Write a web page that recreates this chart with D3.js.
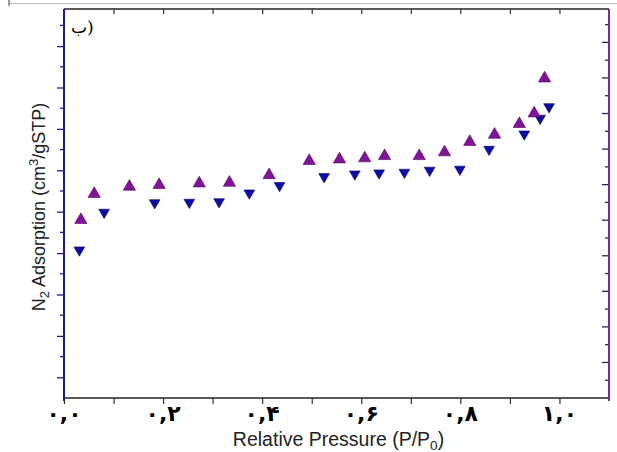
<!DOCTYPE html>
<html>
<head>
<meta charset="utf-8">
<script src="https://cdn.jsdelivr.net/npm/d3@7"></script>
<style>
  body { margin: 0; background: #fff; }
  svg { display: block; }
</style>
</head>
<body>
<script>
// adsorption branch (purple, up triangles)
const adsP = [0.034, 0.061, 0.132, 0.192, 0.273, 0.334, 0.414, 0.495, 0.556, 0.607, 0.647, 0.717, 0.768, 0.819, 0.869, 0.919, 0.949, 0.970];
const adsV = [86, 98.6, 102.1, 102.9, 103.7, 104.0, 107.7, 114.5, 115.3, 115.8, 116.9, 116.9, 118.7, 123.7, 127.2, 132.4, 137.5, 154.4];
// desorption branch (blue, down triangles)
const desP = [0.031, 0.081, 0.183, 0.253, 0.313, 0.374, 0.435, 0.525, 0.587, 0.636, 0.687, 0.738, 0.799, 0.858, 0.929, 0.961, 0.979];
const desV = [71.5, 89.7, 94.3, 94.5, 94.8, 99.0, 102.6, 106.9, 108.2, 108.7, 109.0, 110.0, 110.5, 120.1, 127.5, 135.1, 140.7];

const xTickVals = [0, 0.2, 0.4, 0.6, 0.8, 1.0];
const xTickLabels = ["۰,۰", "۰,۲", "۰,۴", "۰,۶", "۰,۸", "۱,۰"];
const xMinor = [0.1, 0.3, 0.5, 0.7, 0.9];

const W = 617, H = 452;
const mLeft = 64, mRight = 609, mTop = 9, mBottom = 398;

const svg = d3.select("body").append("svg").attr("width", W).attr("height", H);

//scales
const x = d3.scaleLinear().domain([0, 1.1]).range([mLeft, mRight]);
const y = d3.scaleLinear().domain([0, 188]).range([mBottom, mBottom - 188 * 2.07]);
const yR = d3.scaleLinear().domain([0, 1]).range([mBottom, mBottom - 35.56]);

// faint frame line at very top of the picture
svg.append("line").attr("x1", 9).attr("x2", W).attr("y1", 3.5).attr("y2", 3.5)
    .attr("stroke", "#bbb").attr("stroke-width", 1);
svg.append("line").attr("x1", 9).attr("x2", 9).attr("y1", 0).attr("y2", 6)
    .attr("stroke", "#444").attr("stroke-width", 1);

// bottom axis
const gB = svg.append("g").attr("transform", `translate(0,${mBottom})`);
gB.call(d3.axisBottom(x).tickValues(xTickVals.concat(xMinor)).tickSize(6).tickFormat(""));
gB.select(".domain").remove();
gB.selectAll(".tick line").attr("stroke", "#333").attr("stroke-width", 1.2);
gB.selectAll(".lbl").data(xTickVals).join("text")
    .attr("class", "lbl")
    .attr("x", (d) => x(d))
    .attr("y", 23)
    .attr("text-anchor", "middle")
    .attr("font-family", "DejaVu Sans, sans-serif")
    .attr("font-size", 22)
    .attr("font-weight", "bold")
    .attr("fill", "#000")
    .text((d, i) => xTickLabels[i]);
svg.append("line").attr("x1", mLeft).attr("x2", mRight).attr("y1", mBottom).attr("y2", mBottom)
    .attr("stroke", "#222").attr("stroke-width", 1.5);

// top axis, ticks inward
const gT = svg.append("g").attr("transform", `translate(0,${mTop})`);
gT.call(d3.axisTop(x).tickValues(xTickVals.concat(xMinor)).tickSize(-5).tickFormat(""));
gT.select(".domain").remove();
gT.selectAll(".tick line").attr("stroke", "#333").attr("stroke-width", 1.2);
svg.append("line").attr("x1", mLeft).attr("x2", mRight).attr("y1", mTop).attr("y2", mTop)
    .attr("stroke", "#222").attr("stroke-width", 1.5);

// left axis (dark blue), ticks outward
const yMajor = d3.range(10, 181, 20);
const yMin = d3.range(20, 181, 20);
const gL = svg.append("g").attr("transform", `translate(${mLeft},0)`);
gL.call(d3.axisLeft(y).tickValues(yMajor).tickSize(7).tickFormat(""));
gL.selectAll(".mn").data(yMin).join("line").attr("class", "mn")
    .attr("x1", -4).attr("x2", 0).attr("y1", (d) => y(d)).attr("y2", (d) => y(d));
gL.select(".domain").remove();
gL.selectAll("line").attr("stroke", "#1c1c8c").attr("stroke-width", 1.3);
svg.append("line").attr("x1", mLeft).attr("x2", mLeft).attr("y1", mTop).attr("y2", mBottom + 3)
    .attr("stroke", "#1c1c96").attr("stroke-width", 2);

// right axis (purple), ticks inward
const rMajor = d3.range(1, 11);
const rMin = d3.range(0.5, 11, 1);
const gR = svg.append("g").attr("transform", `translate(${mRight},0)`);
gR.selectAll(".mj").data(rMajor).join("line").attr("class", "mj")
    .attr("x1", -7).attr("x2", 0).attr("y1", (d) => yR(d)).attr("y2", (d) => yR(d));
gR.selectAll(".mn").data(rMin).join("line").attr("class", "mn")
    .attr("x1", -4).attr("x2", 0).attr("y1", (d) => yR(d)).attr("y2", (d) => yR(d));
gR.selectAll("line").attr("stroke", "#3a1a50").attr("stroke-width", 1.3);
svg.append("line").attr("x1", mRight).attr("x2", mRight).attr("y1", mTop).attr("y2", mBottom + 3)
    .attr("stroke", "#7b2d9e").attr("stroke-width", 2);

// data points
const tri = d3.symbol().type(d3.symbolTriangle).size(66);
const triD = d3.symbol().type(d3.symbolTriangle).size(50);

svg.append("g").selectAll("path").data(desP).join("path")
    .attr("d", triD)
    .attr("transform", (d, i) => `translate(${x(d)},${y(desV[i])}) rotate(180)`)
    .attr("fill", "#0c0ca6")
    .attr("stroke", "#06065e")
    .attr("stroke-width", 0.6);

svg.append("g").selectAll("path").data(adsP).join("path")
    .attr("d", tri)
    .attr("transform", (d, i) => `translate(${x(d)},${y(adsV[i])})`)
    .attr("fill", "#82129a")
    .attr("stroke", "#4e0860")
    .attr("stroke-width", 0.6);

// panel label
svg.append("text").attr("x", 71).attr("y", 33)
    .attr("font-family", "DejaVu Serif, serif")
    .attr("font-size", 17)
    .attr("fill", "#000")
    .text("ب)");

// axis titles
svg.append("text")
    .attr("x", (mLeft + mRight) / 2 + 2)
    .attr("y", 446)
    .attr("text-anchor", "middle")
    .attr("font-family", "Liberation Sans, Arial, sans-serif")
    .attr("font-size", 19.5)
    .attr("fill", "#222")
    .html('Relative Pressure (P/P<tspan font-size="13.5" dy="4">0</tspan><tspan dy="-4">)</tspan>');

svg.append("text")
    .attr("transform", "translate(45,207) rotate(-90)")
    .attr("text-anchor", "middle")
    .attr("font-family", "Liberation Sans, Arial, sans-serif")
    .attr("font-size", 18)
    .attr("fill", "#222")
    .html('N<tspan font-size="13" dy="4">2</tspan><tspan dy="-4"> Adsorption (cm</tspan><tspan font-size="13" dy="-7">3</tspan><tspan dy="7">/gSTP)</tspan>');
</script>
</body>
</html>
